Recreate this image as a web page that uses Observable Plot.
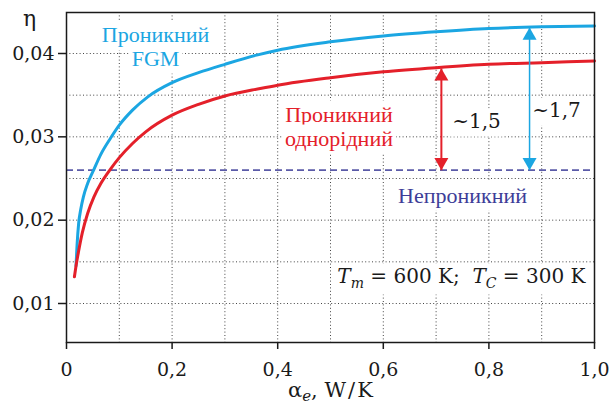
<!DOCTYPE html>
<html><head><meta charset="utf-8">
<script src="https://cdn.jsdelivr.net/npm/d3@7"></script>
<script src="https://cdn.jsdelivr.net/npm/@observablehq/plot@0.6"></script>
<style>body{margin:0;background:#fff} svg{display:block}</style>
</head><body><div id="chart"></div>
<script>
// ---- data ----
const alphaFGM = [0.018, 0.020, 0.023, 0.027, 0.032, 0.040, 0.052, 0.065, 0.083, 0.100, 0.125, 0.154, 0.200, 0.250, 0.300, 0.360, 0.400, 0.500, 0.600, 0.700, 0.800, 0.900, 1.000];
const etaFGM   = [0.0145, 0.0170, 0.0196, 0.0213, 0.0228, 0.0244, 0.0261, 0.0279, 0.0298, 0.0314, 0.0332, 0.0348, 0.0365, 0.0377, 0.0387, 0.0398, 0.0404, 0.0414, 0.0421, 0.0426, 0.0430, 0.0432, 0.0433];
const alphaHom = [0.015, 0.018, 0.023, 0.030, 0.040, 0.052, 0.065, 0.083, 0.100, 0.125, 0.150, 0.200, 0.250, 0.300, 0.367, 0.400, 0.500, 0.600, 0.700, 0.800, 0.900, 1.000];
const etaHom   = [0.0132, 0.0145, 0.0163, 0.0185, 0.0208, 0.0228, 0.0244, 0.0261, 0.0275, 0.0292, 0.0306, 0.0326, 0.0339, 0.0349, 0.0358, 0.0362, 0.0371, 0.0378, 0.0383, 0.0387, 0.0389, 0.0391];
const etaImpermeable = 0.026;
const ratioHom = {alpha: 0.710, from: 0.026, to: 0.0382, label: "~1,5"};
const ratioFGM = {alpha: 0.877, from: 0.026, to: 0.0431, label: "~1,7"};

const xTicks = [0, 0.2, 0.4, 0.6, 0.8, 1.0];
const xTickLabels = ["0", "0,2", "0,4", "0,6", "0,8", "1,0"];
const yTicks = [0.01, 0.02, 0.03, 0.04];
const yTickLabels = ["0,01", "0,02", "0,03", "0,04"];
const xGrid = [0.1, 0.2, 0.3, 0.4, 0.5, 0.6, 0.7, 0.8, 0.9];
const yGrid = [0.01, 0.015, 0.02, 0.025, 0.03, 0.035, 0.04];

const CYAN = "#1ba6e2", RED = "#e4202a", NAVY = "#5b5ba8", NAVYTXT = "#3d3d98";
const fgm = alphaFGM.map((a, i) => ({a, e: etaFGM[i]}));
const hom = alphaHom.map((a, i) => ({a, e: etaHom[i]}));

const cyr = {fontFamily: "Liberation Serif", fontSize: 22, className: "boxed", textAnchor: "middle", lineAnchor: "middle"};
const num = {fontFamily: "DejaVu Serif", fontSize: 20, className: "boxed", textAnchor: "middle", lineAnchor: "middle"};

const grid = {stroke: "#444", strokeOpacity: 1, strokeWidth: 1, strokeDasharray: "1,2.4"};

function arrowMarks(r, color, w) {
  return [
    Plot.link([r], {x1: "alpha", x2: "alpha", y1: "from", y2: "to", stroke: color, strokeWidth: w}),
    Plot.dot([r], {x: "alpha", y: "to", symbol: "triangle", r: 5.2, fill: color, stroke: null, dy: 8}),
    Plot.dot([r], {x: "alpha", y: "from", symbol: "triangle", r: 5.2, fill: color, stroke: null, rotate: 180, dy: -8})
  ];
}

const chart = Plot.plot({
  width: 609, height: 408,
  marginLeft: 66, marginRight: 15, marginTop: 12, marginBottom: 66,
  style: {fontFamily: "DejaVu Serif", fontSize: "19px", background: "white", color: "#1a1a1a"},
  x: {domain: [0, 1]},
  y: {domain: [0.00532, 0.04492]},
  marks: [
    Plot.gridX(xGrid, grid),
    Plot.gridY(yGrid, grid),
    Plot.text([{x: 0.1686, y: 0.0422, t: "Проникний"}, {x: 0.1686, y: 0.0394, t: "FGM"}], {x: "x", y: "y", text: "t", fill: CYAN, ...cyr}),
    Plot.text([{x: 0.516, y: 0.03268, t: "Проникний"}, {x: 0.516, y: 0.0298, t: "однорідний"}], {x: "x", y: "y", text: "t", fill: RED, ...cyr}),
    Plot.text([{x: 0.75, y: 0.02296, t: "Непроникний"}], {x: "x", y: "y", text: "t", fill: NAVYTXT, ...cyr}),
    Plot.text([{x: 0.7765, y: 0.03177, t: ratioHom.label}, {x: 0.928, y: 0.03309, t: ratioFGM.label}], {x: "x", y: "y", text: "t", fill: "#1a1a1a", ...num}),
    Plot.text([{x: 0.513, y: 0.01317, t: "Tm = 600 K; TC = 300 K"}], {x: "x", y: "y", text: "t", fill: "#1a1a1a", ...num, textAnchor: "start", className: "boxed tline"}),
    Plot.ruleY([etaImpermeable], {stroke: NAVY, strokeWidth: 1.6, strokeDasharray: "7,4"}),
    Plot.line(fgm, {x: "a", y: "e", stroke: CYAN, strokeWidth: 3, curve: "monotone-x"}),
    Plot.line(hom, {x: "a", y: "e", stroke: RED, strokeWidth: 3, curve: "monotone-x"}),
    ...arrowMarks(ratioHom, RED, 2),
    ...arrowMarks(ratioFGM, CYAN, 1.5),
    Plot.frame({stroke: "#1a1a1a", strokeWidth: 1.5}),
    Plot.axisX(xTicks, {tickFormat: (d, i) => xTickLabels[i], tickSize: 7, tickPadding: 13, strokeWidth: 1.5, label: null, fontSize: 19}),
    Plot.axisY(yTicks, {tickFormat: (d, i) => yTickLabels[i], tickSize: 8, tickPadding: 4, strokeWidth: 1.5, label: null, fontSize: 19}),
    Plot.text(["η"], {frameAnchor: "top-left", dx: -37, dy: 6, textAnchor: "middle", lineAnchor: "middle", fontSize: 22, fill: "#1a1a1a"}),
    Plot.text(["αe, W/K"], {frameAnchor: "bottom", dy: 48, textAnchor: "middle", lineAnchor: "middle", fontSize: 21, fill: "#1a1a1a", className: "xlabel"})
  ]
});
document.getElementById("chart").appendChild(chart);

function rich(textNode, parts, shift) {
  const s = d3.select(textNode);
  s.text(null);
  let shifted = 0;
  parts.forEach(p => {
    const ts = s.append("tspan").text(p.t);
    if (p.i) ts.attr("font-style", "italic");
    if (p.sub) { ts.attr("font-size", p.sub).attr("dy", shift - shifted); shifted = shift; }
    else if (shifted) { ts.attr("dy", -shifted); shifted = 0; }
  });
}
d3.select(chart).selectAll(".tline text").each(function() {
  rich(this, [{t: "T", i: true}, {t: "m", i: true, sub: 14}, {t: " = 600 K;  "}, {t: "T", i: true}, {t: "C", i: true, sub: 14}, {t: " = 300 K"}], 5);
});
d3.select(chart).selectAll(".xlabel text").each(function() {
  rich(this, [{t: "α"}, {t: "e", i: true, sub: 15}, {t: ", W\u200a/\u200aK"}], 4);
});
// white boxes behind annotation labels (hide the grid like the reference)
d3.select(chart).selectAll(".boxed text").each(function() {
  const b = this.getBBox(), pad = 3;
  const r = document.createElementNS("http://www.w3.org/2000/svg", "rect");
  r.setAttribute("x", b.x - pad); r.setAttribute("y", b.y - pad + 2);
  r.setAttribute("width", b.width + 2 * pad); r.setAttribute("height", b.height + 2 * pad - 2);
  r.setAttribute("fill", "white"); r.setAttribute("stroke", "none");
  const tr = this.getAttribute("transform"); if (tr) r.setAttribute("transform", tr);
  this.parentNode.insertBefore(r, this);
});
</script></body></html>
